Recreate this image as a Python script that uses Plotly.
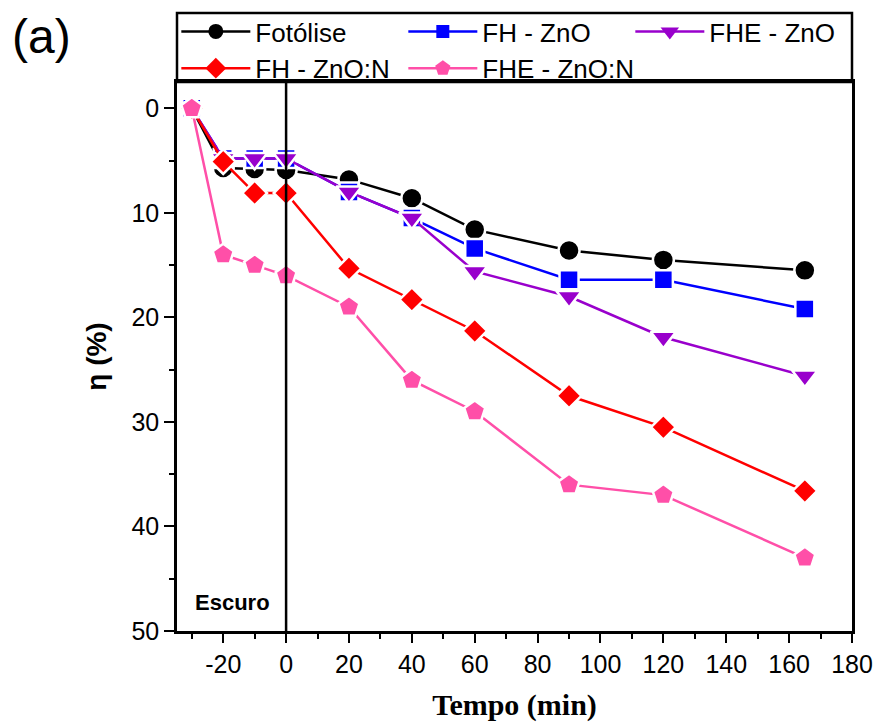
import plotly.graph_objects as go

tempo = [-30, -20, -10, 0, 20, 40, 60, 90, 120, 165]
fotolise = [0, 5.7, 5.8, 5.9, 6.8, 8.6, 11.6, 13.6, 14.5, 15.5]
fh_zno = [0, 4.8, 4.8, 4.8, 8.0, 10.5, 13.4, 16.4, 16.4, 19.2]
fhe_zno = [0, 4.8, 4.8, 4.8, 8.0, 10.5, 15.6, 18.0, 21.9, 25.6]
fh_znon = [0, 5.1, 8.1, 8.1, 15.3, 18.3, 21.3, 27.5, 30.5, 36.6]
fhe_znon = [0, 14.0, 15.0, 16.0, 19.0, 26.0, 29.0, 36.0, 37.0, 43.0]

x_ticks = [-20, 0, 20, 40, 60, 80, 100, 120, 140, 160, 180]
x_ticktext = ["-20", "0", "20", "40", "60", "80", "100", "120", "140", "160", "180"]
x_minor = [-30, -10, 10, 30, 50, 70, 90, 110, 130, 150, 170]
y_ticks = [0, 10, 20, 30, 40, 50]
y_minor = [5, 15, 25, 35, 45]

series = [
    ("Fotólise", fotolise, "#000000", "circle", 21, 15),
    ("FH - ZnO", fh_zno, "#0000FF", "square", 19, 13),
    ("FHE - ZnO", fhe_zno, "#9900CC", "triangle-down", 22, 16),
    ("FH - ZnO:N", fh_znon, "#FF0000", "diamond", 19, 16),
    ("FHE - ZnO:N", fhe_znon, "#FF4FA8", "pentagon", 22, 16),
]

fig = go.Figure()
for name, vals, col, sym, sz, lsz in series:
    fig.add_trace(go.Scatter(
        x=tempo, y=vals, name=name, mode="lines+markers", showlegend=False,
        line=dict(color=col, width=2.5),
        marker=dict(symbol=sym, size=sz, color=col, line=dict(width=2.5, color="white")),
    ))
for name, vals, col, sym, sz, lsz in series:
    fig.add_trace(go.Scatter(
        x=[None], y=[None], name=name, mode="lines+markers", showlegend=True,
        line=dict(color=col, width=2.5),
        marker=dict(symbol=sym, size=lsz, color=col, line=dict(width=0)),
    ))

FONT = "Liberation Sans, Arial, sans-serif"

# vertical separator at t = 0
fig.add_shape(type="line", xref="x", yref="paper", x0=0, x1=0, y0=0, y1=1,
              line=dict(color="black", width=2.5))
# legend box
fig.add_shape(type="rect", xref="paper", yref="paper", x0=0, x1=1, y0=1, y1=(631 - 13) / 549,
              line=dict(color="black", width=2.5), fillcolor="white", layer="below")

fig.add_annotation(x=-17.2, y=47.3, xref="x", yref="y", text="<b>Escuro</b>",
                   showarrow=False, font=dict(family=FONT, size=22, color="black"))
fig.add_annotation(x=(10 - 177) / 675, y=(631 - 37) / 549, xref="paper", yref="paper",
                   text="(a)", showarrow=False, xanchor="left", yanchor="middle",
                   font=dict(family=FONT, size=48, color="black"))

fig.update_layout(
    width=877, height=727,
    margin=dict(l=177, r=25, t=82, b=96, autoexpand=False),
    paper_bgcolor="white", plot_bgcolor="white",
    font=dict(family=FONT, size=25, color="black"),
    showlegend=True,
    legend=dict(
        orientation="h", x=-0.001, y=(631 - 8) / 549, xanchor="left", yanchor="top",
        font=dict(family=FONT, size=26, color="black"),
        bgcolor="rgba(0,0,0,0)", borderwidth=0,
        itemwidth=69, entrywidth=143, entrywidthmode="pixels",
        tracegroupgap=0,
    ),
    xaxis=dict(
        range=[-34.7, 180], tickmode="array", tickvals=x_ticks, ticktext=x_ticktext,
        ticks="outside", ticklen=9, tickwidth=2, tickcolor="black",
        minor=dict(tickmode="array", tickvals=x_minor,
                   ticks="outside", ticklen=5, tickwidth=2, tickcolor="black"),
        showline=True, linewidth=2.5, linecolor="black", mirror=True,
        showgrid=False, zeroline=False,
        tickfont=dict(family=FONT, size=25),
        title=dict(text="<b>Tempo (min)</b>",
                   font=dict(family="Liberation Serif, Times New Roman, serif", size=30),
                   standoff=18),
    ),
    yaxis=dict(
        range=[50, -2.52], tickmode="array", tickvals=y_ticks,
        ticks="outside", ticklen=10, tickwidth=2, tickcolor="black",
        minor=dict(tickmode="array", tickvals=y_minor,
                   ticks="outside", ticklen=5, tickwidth=2, tickcolor="black"),
        showline=True, linewidth=2.5, linecolor="black", mirror=True,
        showgrid=False, zeroline=False,
        tickfont=dict(family=FONT, size=25),
        title=dict(text="<b>η (%)</b>", font=dict(family=FONT, size=28), standoff=17),
    ),
)

fig.write_html("out.html")
